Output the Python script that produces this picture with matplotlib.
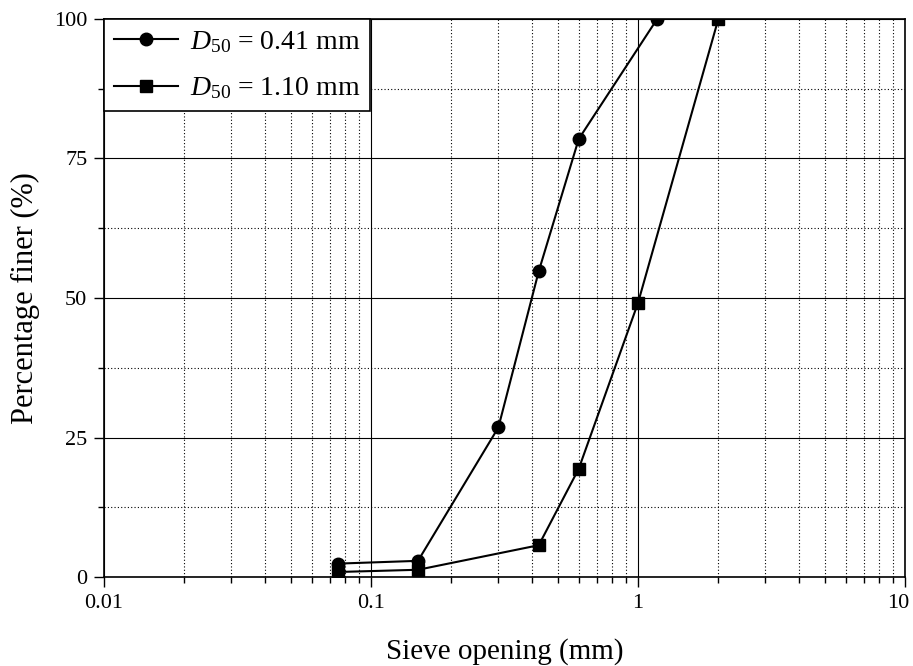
import matplotlib.pyplot as plt
import matplotlib.transforms as mtransforms
from matplotlib.ticker import FixedLocator, NullFormatter, LogLocator

plt.rcParams['font.family'] = ['Liberation Serif', 'DejaVu Serif']
plt.rcParams['mathtext.fontset'] = 'custom'
plt.rcParams['mathtext.rm'] = 'Liberation Serif'
plt.rcParams['mathtext.it'] = 'Liberation Serif:italic'

# sieve sizes (mm) and percentage passing
sieve_fine = [0.075, 0.15, 0.3, 0.425, 0.6, 1.18]
finer_fine = [2.4, 2.9, 26.8, 54.8, 78.5, 100]
sieve_coarse = [0.075, 0.15, 0.425, 0.6, 1.0, 2.0]
finer_coarse = [0.9, 1.3, 5.7, 19.4, 49.1, 100]

labels = [r'$D_{50}$ = 0.41 mm', r'$D_{50}$ = 1.10 mm']
yticks = [0, 25, 50, 75, 100]
xticks = [0.01, 0.1, 1, 10]
xtick_labels = ['0.01', '0.1', '1', '10']

fig = plt.figure(figsize=(9.13, 6.66), dpi=100)
ax = fig.add_axes([0.1139, 0.1336, 0.8773, 0.8379])

ax.plot(sieve_fine, finer_fine, color='black', lw=1.5, marker='o', ms=9,
        label=labels[0], zorder=5)
ax.plot(sieve_coarse, finer_coarse, color='black', lw=1.5, marker='s', ms=8.5,
        label=labels[1], zorder=5)

ax.set_xscale('log')
ax.set_xlim(0.01, 10)
ax.set_ylim(0, 100)
ax.set_xticks(xticks)
ax.set_xticklabels(xtick_labels)
ax.xaxis.set_minor_locator(LogLocator(base=10, subs=range(2, 10), numticks=20))
ax.xaxis.set_minor_formatter(NullFormatter())
ax.set_yticks(yticks)
ax.yaxis.set_minor_locator(FixedLocator([12.5, 37.5, 62.5, 87.5]))

ax.grid(which='major', color='black', lw=0.8, ls='-')
ax.grid(which='minor', color='black', lw=0.8, ls=(0, (1, 2)))
ax.set_axisbelow(True)

ax.tick_params(which='major', direction='out', length=7, width=1, labelsize=16, pad=5)
ax.tick_params(which='minor', direction='out', length=4, width=1)
for s in ax.spines.values():
    s.set_linewidth(1.2)

# keep the "10" label inside the canvas
last = ax.get_xticklabels()[-1]
last.set_transform(last.get_transform() +
                   mtransforms.ScaledTranslation(-5 / 72, 0, fig.dpi_scale_trans))

ax.set_xlabel('Sieve opening (mm)', fontsize=21, labelpad=18)
ax.set_ylabel('Percentage finer (%)', fontsize=22, labelpad=10)

leg = ax.legend(loc='upper left', bbox_to_anchor=(0, 1), borderaxespad=0,
                fontsize=20, frameon=True, fancybox=False, framealpha=1,
                edgecolor='black', handlelength=2.3, handletextpad=0.45,
                borderpad=0.35, labelspacing=0.75)
leg.get_frame().set_linewidth(1.2)

fig.savefig('out.png', dpi=100)
